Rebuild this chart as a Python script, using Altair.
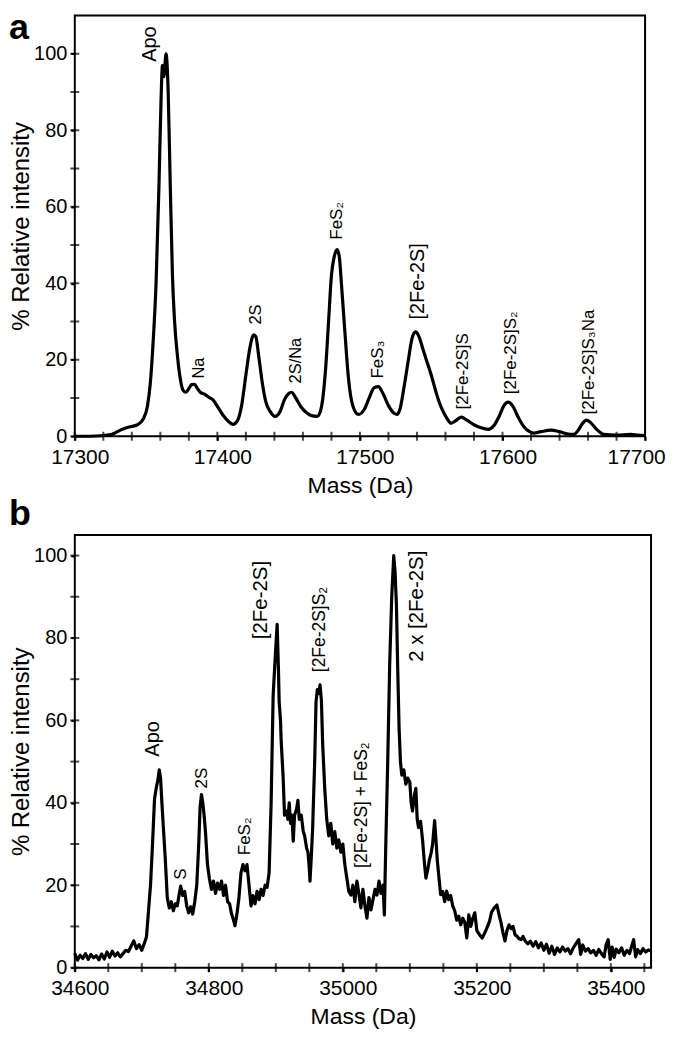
import altair as alt
import pandas as pd

FONT = "Liberation Sans"

# ---------------- Panel a data ----------------
mass_a = [17300, 17310, 17320, 17326, 17332, 17338, 17344, 17348, 17351, 17353,
          17355, 17357, 17359, 17360.5, 17361.5, 17362.5, 17364, 17365.5, 17367, 17368.5,
          17370, 17372, 17374, 17376, 17378, 17380, 17382, 17384, 17386, 17388,
          17391, 17394, 17397, 17400, 17404, 17408, 17411, 17414, 17417, 17420,
          17423, 17425.5, 17427, 17429, 17431.5, 17434, 17437, 17440.5, 17444, 17447,
          17450, 17452, 17455, 17459, 17463, 17466, 17470, 17472, 17474, 17476,
          17478, 17480, 17482, 17484, 17485.5, 17487, 17489.5, 17492, 17495, 17499,
          17503, 17507, 17510, 17513, 17516, 17520, 17524, 17526, 17528, 17531,
          17534, 17536.5, 17539, 17541.5, 17544, 17547, 17550, 17553, 17556, 17559,
          17561, 17564, 17567, 17571, 17575, 17580, 17585, 17590, 17594, 17598,
          17601, 17604, 17607, 17611, 17615, 17619, 17622, 17627, 17634, 17640,
          17646, 17650, 17653, 17656, 17659, 17662, 17666, 17671, 17680, 17690,
          17695, 17700]
int_a = [0, 0, 0.2, 0.5, 1.6, 2.4, 3.0, 4.5, 8, 14,
         25, 40, 65, 88, 97, 94, 100, 90, 65, 42,
         30, 21, 15, 12, 11.5, 12.5, 13.5, 13.6, 12.5, 11.5,
         11, 10.2, 9.5, 7.8, 5.5, 3.8, 3.1, 4, 8, 16,
         23.5, 26.5, 26, 21, 14, 9, 6.5, 5.2, 6.5, 9.5,
         11.2, 11.5, 10, 7.5, 6, 5.4, 5.2, 6.2, 10, 18,
         30, 42, 47, 48.8, 47, 40, 27, 15, 8, 5.7,
         7, 10.5, 12.7, 13, 11.3, 8, 6, 5.7, 7, 13,
         20, 25.5, 27.3, 26, 23, 19.5, 16, 12, 8.5, 6,
         4.7, 3.4, 4, 5, 4.2, 3, 2.2, 1.8, 2.8, 5.5,
         8, 8.9, 8, 5, 2.5, 1.2, 0.8, 1.2, 1.6, 1.2,
         0.6, 0.5, 1.5, 3.3, 4.2, 3.5, 1.8, 0.5, 0.3, 0.5,
         0.3, 0.2]

labels_a = ["Apo", "Na", "2S", "2S/Na", "FeS₂", "FeS₃", "[2Fe-2S]",
            "[2Fe-2S]S", "[2Fe-2S]S₂", "[2Fe-2S]S₃Na"]
label_a_mass = [17353, 17387, 17427, 17455, 17484, 17513, 17541, 17572, 17606, 17661]
label_a_int = [97.9, 15.1, 29.2, 13.8, 51.4, 15.1, 30.5, 7.0, 11.0, 5.7]
label_a_size = [20, 16.5, 16.5, 16.5, 17, 17, 20, 17, 17, 17]

xticks_a = list(range(17300, 17701, 20))      # all tick marks
xlabels_a = list(range(17300, 17701, 100))    # labelled ticks
yticks = list(range(0, 101, 10))
ylabels = list(range(0, 101, 20))

# ---------------- Panel b data ----------------
mass_b = [34600, 34604, 34608, 34612, 34616, 34620, 34624, 34628, 34632, 34636,
          34640, 34644, 34648, 34652, 34656, 34660, 34664, 34668, 34672, 34676,
          34680, 34684, 34688, 34692, 34696, 34700, 34704, 34707, 34710, 34713,
          34716, 34719, 34722, 34724, 34726, 34728, 34730, 34732, 34735, 34738,
          34741, 34744, 34747, 34750, 34753, 34756, 34758, 34761, 34764, 34767,
          34770, 34773, 34776, 34779, 34782, 34785, 34787, 34789, 34791, 34793,
          34795, 34798, 34801, 34804, 34807, 34810, 34813, 34816, 34819, 34822,
          34825, 34828, 34831, 34834, 34837, 34839, 34842, 34845, 34848, 34851,
          34854, 34857, 34860, 34863, 34866, 34869, 34872, 34875, 34878, 34881,
          34884, 34887, 34890, 34893, 34896, 34899, 34902, 34904, 34905, 34907,
          34908, 34911, 34913, 34916, 34918, 34920, 34922, 34924, 34926, 34928,
          34931, 34933, 34935, 34938, 34941, 34943, 34946, 34948, 34950, 34951,
          34953, 34955, 34958, 34960, 34962, 34964, 34966, 34968, 34970, 34973,
          34976, 34979, 34982, 34985, 34988, 34991, 34994, 34997, 35000, 35003,
          35006, 35009, 35012, 35015, 35018, 35021, 35024, 35027, 35030, 35033,
          35036, 35039, 35042, 35045, 35048, 35051, 35054, 35057, 35060, 35062,
          35064, 35067, 35070, 35073, 35076, 35078, 35080, 35082, 35084, 35086,
          35088, 35091, 35094, 35097, 35100, 35102, 35104, 35107, 35109, 35111,
          35113, 35116, 35119, 35122, 35124, 35127, 35129, 35132, 35134, 35137,
          35139, 35141, 35144, 35146, 35149, 35152, 35155, 35158, 35161, 35164,
          35167, 35170, 35173, 35176, 35179, 35182, 35185, 35188, 35191, 35194,
          35197, 35200, 35204, 35208, 35212, 35216, 35219, 35222, 35226, 35230,
          35233, 35236, 35239, 35242, 35245, 35248, 35251, 35254, 35257, 35260,
          35263, 35266, 35269, 35272, 35276, 35280, 35284, 35288, 35292, 35296,
          35300, 35304, 35308, 35312, 35316, 35320, 35324, 35328, 35332, 35336,
          35340, 35344, 35348, 35352, 35355, 35358, 35362, 35366, 35370, 35374,
          35378, 35382, 35386, 35390, 35393, 35396, 35399, 35402, 35405, 35408,
          35412, 35416, 35420, 35424, 35428, 35431, 35434, 35437, 35440, 35444,
          35448, 35452, 35456, 35460]
int_b = [3.5, 1.8, 3.0, 2.2, 3.4, 2.0, 3.2, 2.4, 2.9, 1.9,
         3.3, 2.1, 3.8, 2.5, 4.0, 2.8, 3.6, 2.6, 3.4, 4.2,
         3.9, 5.2, 6.5, 4.6, 5.6, 4.2, 6.0, 7.5, 13.8, 20,
         30, 41, 44, 45.5, 48, 46, 40, 34.5, 26.5, 17,
         14.5, 16, 13.8, 15.5, 15, 18, 19.8, 17.5, 18.5, 15,
         13.3, 14.8, 13, 16, 20, 30, 39, 42, 40, 37,
         33, 25, 21.5, 19, 21, 18, 20.5, 19, 21, 17.5,
         20, 16, 15.5, 13, 11.5, 10.2, 13, 17, 23, 25,
         23.5, 25, 20, 15, 17.5, 15.5, 18.5, 16.5, 19, 17.5,
         20, 19.5, 23, 40, 66, 75, 83.3, 72, 64.5, 60,
         55, 46, 37, 38, 36, 40, 35, 37, 30.7, 37,
         38.5, 40.6, 36, 37, 33, 32, 29, 28, 24, 21,
         27, 34, 50, 64.5, 67.5, 66.5, 68.6, 65, 54, 43.5,
         36, 32, 35, 30, 33, 29, 31, 28, 30, 25,
         21.7, 18.5, 17.6, 20, 16, 21, 18, 14.5, 19, 15,
         12, 17, 14, 16.5, 19, 17.6, 21, 18, 20, 12.8,
         29, 50, 74, 90, 100, 96, 88, 72, 58, 50,
         46.7, 48, 44.5, 46, 45, 40, 38, 42, 43.5, 36,
         34, 35.5, 31, 25, 21.7, 24, 26, 28, 30, 35.7,
         31, 26, 21, 17.7, 18.5, 16, 18.6, 16.5, 17.5, 15,
         13.8, 11.5, 12.5, 10.4, 12, 11, 7.2, 12.8, 10, 12,
         13.3, 9, 8, 7.2, 8.5, 10, 11.3, 13.5, 14.5, 15.2,
         13, 11, 8.5, 6.5, 9, 10.4, 9.5, 10, 8, 7.6,
         7, 6.8, 7.6, 6.5, 5.8, 6.4, 5.2, 6.3, 4.8, 6.0,
         4.2, 5.7, 3.5, 5.2, 3.2, 4.8, 3.8, 5.0, 4.0, 4.6,
         3.4, 4.8, 5.8, 6.8, 3.2, 5.5, 4.0, 4.6, 3.6, 4.2,
         3.0, 4.4, 3.4, 2.6, 5.6, 6.8, 2.0, 5.0, 2.5, 4.5,
         3.6, 4.8, 3.0, 4.2, 3.4, 5.2, 6.8, 2.6, 4.4, 3.4,
         4.6, 3.8, 4.3, 4.0]

labels_b = ["Apo", "S", "2S", "FeS₂", "[2Fe-2S]", "[2Fe-2S]S₂",
            "[2Fe-2S] + FeS₂", "2 x [2Fe-2S]"]
label_b_mass = [34717, 34758, 34790, 34854, 34878, 34966, 35028, 35110]
label_b_int = [51.2, 21.3, 43.5, 27.3, 79.7, 71.7, 24.2, 74.2]
label_b_size = [20, 17, 17, 17, 20.5, 17.5, 17.5, 20.5]

xticks_b = list(range(34600, 35451, 50))
xlabels_b = list(range(34600, 35401, 200))

assert len(mass_a) == len(int_a)
assert len(mass_b) == len(int_b)


def make_panel(mass, inten, labels, lmass, lint, lsize, xdom, ydom, xticks, xlabels,
               w, h, letter, letter_y, interp, xlab_offset):
    df = pd.DataFrame({"mass": mass, "int": inten})
    ldf = pd.DataFrame({"mass": lmass, "int": lint, "label": labels, "fs": lsize})
    xaxis = alt.Axis(
        values=xlabels, format="d",
        title="Mass (Da)", domain=False, grid=False, ticks=True, tickSize=4,
        tickWidth=2, tickColor="black", labelFontSize=21, labelFont=FONT,
        labelColor="black", labelPadding=6, labelFlush=False, labelOverlap=False,
        labelOffset=xlab_offset, titleFontSize=23, titleFont=FONT,
        titleFontWeight="normal", titleColor="black", titlePadding=7)
    yaxis = alt.Axis(
        values=ylabels, format="d",
        title="% Relative intensity", domain=False, grid=False, ticks=True,
        tickSize=4, tickWidth=2, tickColor="black", labelFontSize=20,
        labelFont=FONT, labelColor="black", labelPadding=4, labelFlush=False,
        labelOverlap=False, titleFontSize=24, titleFont=FONT,
        titleFontWeight="normal", titleColor="black", titlePadding=0)
    x = alt.X("mass:Q", scale=alt.Scale(domain=xdom, nice=False, zero=False), axis=xaxis)
    y = alt.Y("int:Q", scale=alt.Scale(domain=ydom, nice=False, zero=False), axis=yaxis)
    line = alt.Chart(df).mark_line(color="black", strokeWidth=3.2, interpolate=interp,
                                   strokeJoin="round").encode(x=x, y=y)
    # tick marks crossing the frame (minor and major)
    xt = alt.Chart(pd.DataFrame({"mass": xticks})).mark_tick(
        color="black", size=9, thickness=2, orient="vertical").encode(
        x="mass:Q", y=alt.value(h))
    yt = alt.Chart(pd.DataFrame({"int": yticks})).mark_tick(
        color="black", size=9, thickness=2, orient="horizontal").encode(
        y="int:Q", x=alt.value(0))
    text = alt.Chart(ldf).mark_text(angle=270, align="left", baseline="middle",
                                    font=FONT, color="black").encode(
        x="mass:Q", y="int:Q", text="label:N",
        size=alt.Size("fs:Q", scale=None, legend=None))
    let = alt.Chart(pd.DataFrame({"t": [letter]})).mark_text(
        font=FONT, fontSize=36, fontWeight="bold", align="left",
        baseline="alphabetic", color="black").encode(
        x=alt.value(-66), y=alt.value(letter_y), text="t:N")
    return alt.layer(line, xt, yt, text, let).properties(width=w, height=h)


off_a = {"condition": {"test": "datum.value === 17700", "value": -9}, "value": 5}

panel_a = make_panel(mass_a, int_a, labels_a, label_a_mass, label_a_int, label_a_size,
                     [17300, 17700], [0, 110], xticks_a, xlabels_a,
                     572, 422, "a", 24, "monotone", off_a)
panel_b = make_panel(mass_b, int_b, labels_b, label_b_mass, label_b_int, label_b_size,
                     [34600, 35460], [0, 105], xticks_b, xlabels_b,
                     578, 434, "b", -10, "linear", 5)

chart = alt.vconcat(panel_a, panel_b, spacing=99, bounds="flush").properties(
    padding=0
).configure_view(stroke="black", strokeWidth=2)

chart.save("out.html", embed_options={"renderer": "svg", "actions": False})
